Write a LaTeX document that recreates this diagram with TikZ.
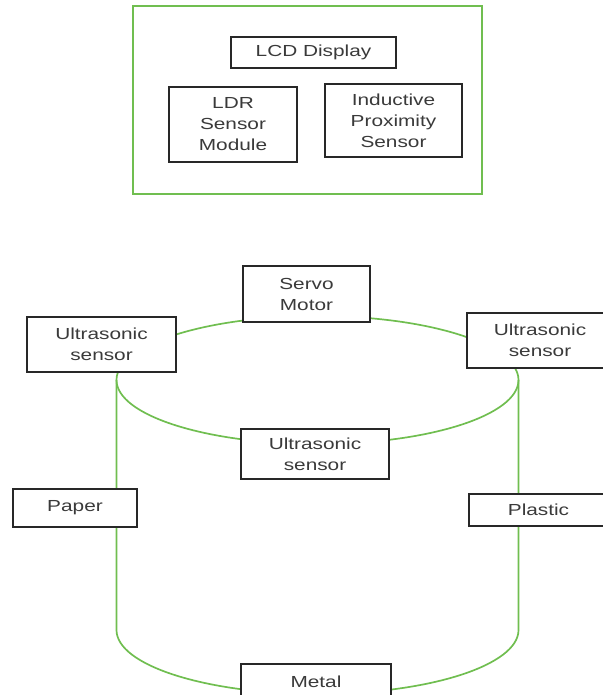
\documentclass[tikz,border=0pt]{standalone}
\usepackage{fontspec}
\setmainfont{Liberation Sans}[FakeStretch=1.3]
\definecolor{binGreen}{RGB}{112,190,80}
\definecolor{labelGray}{RGB}{58,58,58}
\definecolor{edgeGray}{RGB}{40,40,40}
\tikzset{
  part/.style={draw=edgeGray, line width=1.4bp, fill=white, rectangle,
    inner sep=0pt, align=center, text=labelGray,
    font=\fontsize{16bp}{21bp}\selectfont},
  binline/.style={draw=binGreen, line width=1.7bp}
}
\begin{document}
\begin{tikzpicture}[x=1bp,y=-1bp]
\useasboundingbox (0,0) rectangle (603,695);
\clip (0,0) rectangle (603,695);

% control unit enclosure
\draw[binline, line width=1.8bp] (133,6) rectangle (482,194);
\node[part, minimum width=165bp, minimum height=31bp] (lcd) at (313.5,52.5) {LCD Display};
\node[part, minimum width=128bp, minimum height=75bp] (ldr) at (233,124.5) {LDR\\Sensor\\Module};
\node[part, minimum width=137bp, minimum height=73bp] (ind) at (393.5,120.5) {Inductive\\Proximity\\Sensor};

% sorting bin drawn as a cylinder
\draw[binline] (317.5,380) ellipse [x radius=201bp, y radius=64bp];
\draw[binline] (116.5,380) -- (116.5,630)
  arc [start angle=180, end angle=360, x radius=201bp, y radius=64bp]
  -- (518.5,380);

% parts mounted on the bin
\node[part, minimum width=127bp, minimum height=56bp] (servo) at (306.5,294) {Servo\\Motor};
\node[part, minimum width=149bp, minimum height=55bp] (usl) at (101.5,344.5) {Ultrasonic\\sensor};
\node[part, minimum width=146bp, minimum height=55bp] (usr) at (540,340.5) {Ultrasonic\\sensor};
\node[part, minimum width=148bp, minimum height=50bp] (usc) at (315,454) {Ultrasonic\\sensor};
\node[part, minimum width=124bp, minimum height=38bp] (paper) at (75,508) {Paper};
\node[part, minimum width=139bp, minimum height=32bp] (plastic) at (538.5,510) {Plastic};
\node[part, minimum width=150bp, minimum height=36bp] (metal) at (316,682) {Metal};
\end{tikzpicture}
\end{document}
